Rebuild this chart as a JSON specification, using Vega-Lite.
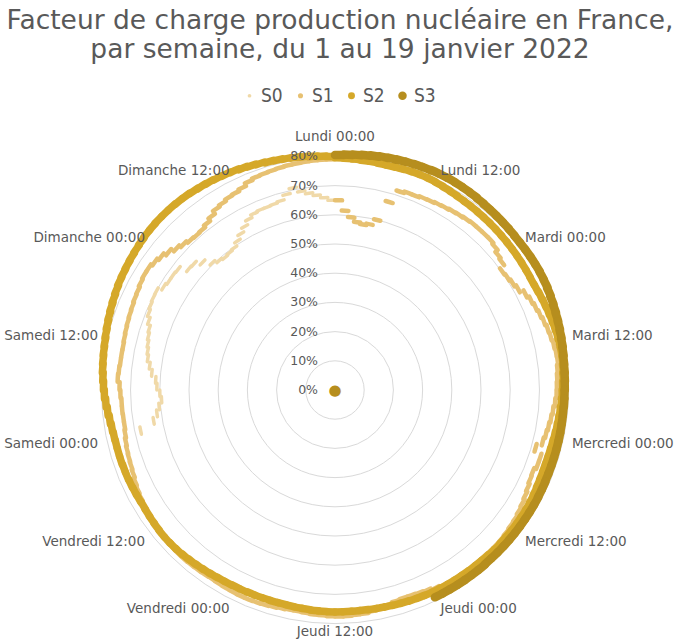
{
  "$schema": "https://vega.github.io/schema/vega-lite/v6.json",
  "width": 480,
  "height": 480,
  "autosize": {"type": "none"},
  "padding": {"left": 95, "top": 150, "right": 105, "bottom": 13},
  "background": "white",
  "config": {"view": {"stroke": null}},
  "title": {
    "text": ["Facteur de charge production nucléaire en France,", "par semaine, du 1 au 19 janvier 2022"],
    "font": "DejaVu Sans",
    "fontSize": 26.5,
    "fontWeight": "normal",
    "color": "#595959",
    "anchor": "middle",
    "frame": "group",
    "baseline": "alphabetic",
    "lineHeight": 29,
    "offset": 2,
    "dx": 5
  },
  "datasets": {
    "rings": [
      {"r": 0, "t": "0%"}, {"r": 10, "t": "10%"}, {"r": 20, "t": "20%"}, {"r": 30, "t": "30%"}, {"r": 40, "t": "40%"},
      {"r": 50, "t": "50%"}, {"r": 60, "t": "60%"}, {"r": 70, "t": "70%"}, {"r": 80, "t": "80%"}
    ],
    "labs": [
      {"h": 0, "t": "Lundi 00:00"}, {"h": 12, "t": "Lundi 12:00"}, {"h": 24, "t": "Mardi 00:00"}, {"h": 36, "t": "Mardi 12:00"},
      {"h": 48, "t": "Mercredi 00:00"}, {"h": 60, "t": "Mercredi 12:00"}, {"h": 72, "t": "Jeudi 00:00"}, {"h": 84, "t": "Jeudi 12:00"},
      {"h": 96, "t": "Vendredi 00:00"}, {"h": 108, "t": "Vendredi 12:00"}, {"h": 120, "t": "Samedi 00:00"}, {"h": 132, "t": "Samedi 12:00"},
      {"h": 144, "t": "Dimanche 00:00"}, {"h": 156, "t": "Dimanche 12:00"}
    ],
    "load": [
{"s":"S0","h":120,"v":68},{"s":"S0","h":121,"v":63},{"s":"S0","h":122,"v":61.5},{"s":"S0","h":123,"v":60.5},{"s":"S0","h":124,"v":59.5},{"s":"S0","h":125,"v":60},{"s":"S0","h":126,"v":61},{"s":"S0","h":127,"v":61.5},{"s":"S0","h":128,"v":63},{"s":"S0","h":129,"v":64},{"s":"S0","h":130,"v":65},{"s":"S0","h":131,"v":65.5},{"s":"S0","h":132,"v":66},{"s":"S0","h":133,"v":66.5},{"s":"S0","h":134,"v":67},{"s":"S0","h":135,"v":68},{"s":"S0","h":136,"v":69},{"s":"S0","h":137,"v":69.5},{"s":"S0","h":138,"v":69.8},{"s":"S0","h":139,"v":69.9},{"s":"S0","h":140,"v":68.5},{"s":"S0","h":141,"v":68},{"s":"S0","h":142,"v":68},{"s":"S0","h":143,"v":67.8},{"s":"S0","h":144,"v":65},{"s":"S0","h":145,"v":64.8},{"s":"S0","h":146,"v":63},{"s":"S0","h":147,"v":60.5},{"s":"S0","h":148,"v":59.5},{"s":"S0","h":149,"v":59},{"s":"S0","h":150,"v":59.3},{"s":"S0","h":151,"v":59.7},{"s":"S0","h":152,"v":61},{"s":"S0","h":153,"v":62.5},{"s":"S0","h":154,"v":64},{"s":"S0","h":155,"v":65.5},{"s":"S0","h":156,"v":66.5},{"s":"S0","h":157,"v":66.8},{"s":"S0","h":158,"v":66.8},{"s":"S0","h":159,"v":67},{"s":"S0","h":160,"v":67.4},{"s":"S0","h":161,"v":69},{"s":"S0","h":162,"v":70.7},{"s":"S0","h":163,"v":69},{"s":"S0","h":164,"v":68},{"s":"S0","h":165,"v":67},{"s":"S0","h":166,"v":66},{"s":"S0","h":167,"v":65},
{"s":"S1","h":0,"v":65},{"s":"S1","h":1,"v":61.5},{"s":"S1","h":2,"v":59.4},{"s":"S1","h":3,"v":58},{"s":"S1","h":4,"v":57.5},{"s":"S1","h":5,"v":58},{"s":"S1","h":6,"v":60},{"s":"S1","h":7,"v":67},{"s":"S1","h":8,"v":71.5},{"s":"S1","h":9,"v":72},{"s":"S1","h":10,"v":72},{"s":"S1","h":11,"v":72.4},{"s":"S1","h":12,"v":72.5},{"s":"S1","h":13,"v":72.8},{"s":"S1","h":14,"v":73},{"s":"S1","h":15,"v":73.3},{"s":"S1","h":16,"v":73.5},{"s":"S1","h":17,"v":73.8},{"s":"S1","h":18,"v":74},{"s":"S1","h":19,"v":74},{"s":"S1","h":20,"v":74},{"s":"S1","h":21,"v":74},{"s":"S1","h":22,"v":73.5},{"s":"S1","h":23,"v":72.5},
{"s":"S1","h":24,"v":72},{"s":"S1","h":25,"v":70.2},{"s":"S1","h":26,"v":70.5},{"s":"S1","h":27,"v":71},{"s":"S1","h":28,"v":71.6},{"s":"S1","h":29,"v":73},{"s":"S1","h":30,"v":73.8},{"s":"S1","h":31,"v":74.3},{"s":"S1","h":32,"v":74.8},{"s":"S1","h":33,"v":75.3},{"s":"S1","h":34,"v":75.8},{"s":"S1","h":35,"v":76.1},{"s":"S1","h":36,"v":76.5},{"s":"S1","h":37,"v":76.8},{"s":"S1","h":38,"v":76.9},{"s":"S1","h":39,"v":76.5},{"s":"S1","h":40,"v":76.2},{"s":"S1","h":41,"v":76},{"s":"S1","h":42,"v":75.9},{"s":"S1","h":43,"v":75.5},{"s":"S1","h":44,"v":75},{"s":"S1","h":45,"v":74.6},{"s":"S1","h":46,"v":74.2},{"s":"S1","h":47,"v":73.8},
{"s":"S1","h":48,"v":73.3},{"s":"S1","h":49,"v":71.5},{"s":"S1","h":50,"v":74},{"s":"S1","h":51,"v":74},{"s":"S1","h":52,"v":73.3},{"s":"S1","h":53,"v":73.5},{"s":"S1","h":54,"v":74},{"s":"S1","h":55,"v":74.5},{"s":"S1","h":56,"v":75},{"s":"S1","h":57,"v":75.4},{"s":"S1","h":58,"v":75.8},{"s":"S1","h":59,"v":76},{"s":"S1","h":60,"v":76.3},{"s":"S1","h":61,"v":76.5},{"s":"S1","h":62,"v":76.6},{"s":"S1","h":63,"v":76.6},{"s":"S1","h":64,"v":76.5},{"s":"S1","h":65,"v":76.6},{"s":"S1","h":66,"v":76.8},{"s":"S1","h":67,"v":76.9},{"s":"S1","h":68,"v":77},{"s":"S1","h":69,"v":76.9},{"s":"S1","h":70,"v":76.5},{"s":"S1","h":71,"v":76},
{"s":"S1","h":72,"v":75.5},{"s":"S1","h":73,"v":75.2},{"s":"S1","h":74,"v":75},{"s":"S1","h":75,"v":75},{"s":"S1","h":76,"v":75.2},{"s":"S1","h":77,"v":75.8},{"s":"S1","h":78,"v":76.3},{"s":"S1","h":79,"v":76.8},{"s":"S1","h":80,"v":77.2},{"s":"S1","h":81,"v":77.3},{"s":"S1","h":82,"v":77.5},{"s":"S1","h":83,"v":77.6},{"s":"S1","h":84,"v":77.5},{"s":"S1","h":85,"v":77.3},{"s":"S1","h":86,"v":77.2},{"s":"S1","h":87,"v":77},{"s":"S1","h":88,"v":76.8},{"s":"S1","h":89,"v":76.8},{"s":"S1","h":90,"v":77},{"s":"S1","h":91,"v":77.2},{"s":"S1","h":92,"v":77.4},{"s":"S1","h":93,"v":77.5},{"s":"S1","h":94,"v":77.6},{"s":"S1","h":95,"v":77.6},
{"s":"S1","h":96,"v":77.5},{"s":"S1","h":97,"v":77.4},{"s":"S1","h":98,"v":77.3},{"s":"S1","h":99,"v":77.2},{"s":"S1","h":100,"v":77.3},{"s":"S1","h":101,"v":77.4},{"s":"S1","h":102,"v":77.5},{"s":"S1","h":103,"v":77.6},{"s":"S1","h":104,"v":77.6},{"s":"S1","h":105,"v":77.5},{"s":"S1","h":106,"v":77.3},{"s":"S1","h":107,"v":77},{"s":"S1","h":108,"v":77},{"s":"S1","h":109,"v":76.8},{"s":"S1","h":110,"v":76.6},{"s":"S1","h":111,"v":76.4},{"s":"S1","h":112,"v":76},{"s":"S1","h":113,"v":75.7},{"s":"S1","h":114,"v":75.3},{"s":"S1","h":115,"v":74.8},{"s":"S1","h":116,"v":74.5},{"s":"S1","h":117,"v":74.3},{"s":"S1","h":118,"v":74.1},{"s":"S1","h":119,"v":73.8},
{"s":"S1","h":120,"v":73.4},{"s":"S1","h":121,"v":73.1},{"s":"S1","h":122,"v":73.1},{"s":"S1","h":123,"v":73.2},{"s":"S1","h":124,"v":73.2},{"s":"S1","h":125,"v":73.5},{"s":"S1","h":126,"v":73.8},{"s":"S1","h":127,"v":74.5},{"s":"S1","h":128,"v":74.3},{"s":"S1","h":129,"v":74.1},{"s":"S1","h":130,"v":74.1},{"s":"S1","h":131,"v":74.1},{"s":"S1","h":132,"v":74.3},{"s":"S1","h":133,"v":74.5},{"s":"S1","h":134,"v":74.7},{"s":"S1","h":135,"v":74.9},{"s":"S1","h":136,"v":75.1},{"s":"S1","h":137,"v":75.4},{"s":"S1","h":138,"v":75.6},{"s":"S1","h":139,"v":76},{"s":"S1","h":140,"v":76.3},{"s":"S1","h":141,"v":76.3},{"s":"S1","h":142,"v":75.7},{"s":"S1","h":143,"v":75},
{"s":"S1","h":144,"v":74},{"s":"S1","h":145,"v":72.8},{"s":"S1","h":146,"v":72},{"s":"S1","h":147,"v":71.3},{"s":"S1","h":148,"v":71.1},{"s":"S1","h":149,"v":71.3},{"s":"S1","h":150,"v":72},{"s":"S1","h":151,"v":73},{"s":"S1","h":152,"v":74.2},{"s":"S1","h":153,"v":74.7},{"s":"S1","h":154,"v":75.3},{"s":"S1","h":155,"v":75.6},{"s":"S1","h":156,"v":76.2},{"s":"S1","h":157,"v":77.2},{"s":"S1","h":158,"v":77.8},{"s":"S1","h":159,"v":78},{"s":"S1","h":160,"v":78.2},{"s":"S1","h":161,"v":78.4},{"s":"S1","h":162,"v":78.6},{"s":"S1","h":163,"v":78.7},{"s":"S1","h":164,"v":78.8},{"s":"S1","h":165,"v":78.9},{"s":"S1","h":166,"v":79},{"s":"S1","h":167,"v":79},
{"s":"S2","h":0,"v":79.5},{"s":"S2","h":1,"v":79.4},{"s":"S2","h":2,"v":79.3},{"s":"S2","h":3,"v":79.2},{"s":"S2","h":4,"v":79.2},{"s":"S2","h":5,"v":79},{"s":"S2","h":6,"v":79},{"s":"S2","h":7,"v":79.1},{"s":"S2","h":8,"v":79.2},{"s":"S2","h":9,"v":79.3},{"s":"S2","h":10,"v":79.3},{"s":"S2","h":11,"v":79.2},{"s":"S2","h":12,"v":79},{"s":"S2","h":13,"v":78.8},{"s":"S2","h":14,"v":78.6},{"s":"S2","h":15,"v":78.4},{"s":"S2","h":16,"v":78.3},{"s":"S2","h":17,"v":78.2},{"s":"S2","h":18,"v":78.1},{"s":"S2","h":19,"v":78},{"s":"S2","h":20,"v":77.9},{"s":"S2","h":21,"v":77.8},{"s":"S2","h":22,"v":77.7},{"s":"S2","h":23,"v":77.6},
{"s":"S2","h":24,"v":77.5},{"s":"S2","h":25,"v":77.4},{"s":"S2","h":26,"v":77.3},{"s":"S2","h":27,"v":77.2},{"s":"S2","h":28,"v":77.1},{"s":"S2","h":29,"v":77.2},{"s":"S2","h":30,"v":77.4},{"s":"S2","h":31,"v":77.6},{"s":"S2","h":32,"v":77.8},{"s":"S2","h":33,"v":78},{"s":"S2","h":34,"v":78.2},{"s":"S2","h":35,"v":78.4},{"s":"S2","h":36,"v":78.5},{"s":"S2","h":37,"v":78.6},{"s":"S2","h":38,"v":78.6},{"s":"S2","h":39,"v":78.4},{"s":"S2","h":40,"v":78.2},{"s":"S2","h":41,"v":78},{"s":"S2","h":42,"v":77.8},{"s":"S2","h":43,"v":77.6},{"s":"S2","h":44,"v":77.4},{"s":"S2","h":45,"v":77.2},{"s":"S2","h":46,"v":77},{"s":"S2","h":47,"v":76.8},
{"s":"S2","h":48,"v":76.6},{"s":"S2","h":49,"v":76.5},{"s":"S2","h":50,"v":76.4},{"s":"S2","h":51,"v":76.4},{"s":"S2","h":52,"v":76.5},{"s":"S2","h":53,"v":76.6},{"s":"S2","h":54,"v":76.8},{"s":"S2","h":55,"v":77},{"s":"S2","h":56,"v":77.1},{"s":"S2","h":57,"v":77.2},{"s":"S2","h":58,"v":77.2},{"s":"S2","h":59,"v":77.2},{"s":"S2","h":60,"v":77.2},{"s":"S2","h":61,"v":77.2},{"s":"S2","h":62,"v":77.3},{"s":"S2","h":63,"v":77.2},{"s":"S2","h":64,"v":77.1},{"s":"S2","h":65,"v":77},{"s":"S2","h":66,"v":77},{"s":"S2","h":67,"v":76.9},{"s":"S2","h":68,"v":76.9},{"s":"S2","h":69,"v":76.9},{"s":"S2","h":70,"v":76.9},{"s":"S2","h":71,"v":76.8},
{"s":"S2","h":72,"v":76.8},{"s":"S2","h":73,"v":76.7},{"s":"S2","h":74,"v":76.6},{"s":"S2","h":75,"v":76.5},{"s":"S2","h":76,"v":76.4},{"s":"S2","h":77,"v":76.3},{"s":"S2","h":78,"v":76.2},{"s":"S2","h":79,"v":76.1},{"s":"S2","h":80,"v":76},{"s":"S2","h":81,"v":76},{"s":"S2","h":82,"v":76},{"s":"S2","h":83,"v":76},{"s":"S2","h":84,"v":76},{"s":"S2","h":85,"v":75.9},{"s":"S2","h":86,"v":75.8},{"s":"S2","h":87,"v":75.7},{"s":"S2","h":88,"v":75.6},{"s":"S2","h":89,"v":75.5},{"s":"S2","h":90,"v":75.4},{"s":"S2","h":91,"v":75.4},{"s":"S2","h":92,"v":75.4},{"s":"S2","h":93,"v":75.4},{"s":"S2","h":94,"v":75.4},{"s":"S2","h":95,"v":75.5},
{"s":"S2","h":96,"v":75.5},{"s":"S2","h":97,"v":75.6},{"s":"S2","h":98,"v":75.7},{"s":"S2","h":99,"v":75.9},{"s":"S2","h":100,"v":76.1},{"s":"S2","h":101,"v":76.3},{"s":"S2","h":102,"v":76.5},{"s":"S2","h":103,"v":76.7},{"s":"S2","h":104,"v":76.9},{"s":"S2","h":105,"v":77},{"s":"S2","h":106,"v":77.1},{"s":"S2","h":107,"v":77.1},{"s":"S2","h":108,"v":77},{"s":"S2","h":109,"v":76.9},{"s":"S2","h":110,"v":76.8},{"s":"S2","h":111,"v":76.7},{"s":"S2","h":112,"v":76.8},{"s":"S2","h":113,"v":76.9},{"s":"S2","h":114,"v":77},{"s":"S2","h":115,"v":77.1},{"s":"S2","h":116,"v":77.1},{"s":"S2","h":117,"v":77.2},{"s":"S2","h":118,"v":77.2},{"s":"S2","h":119,"v":77.2},
{"s":"S2","h":120,"v":77.3},{"s":"S2","h":121,"v":77.5},{"s":"S2","h":122,"v":77.8},{"s":"S2","h":123,"v":78.2},{"s":"S2","h":124,"v":78.6},{"s":"S2","h":125,"v":79},{"s":"S2","h":126,"v":79.3},{"s":"S2","h":127,"v":79.6},{"s":"S2","h":128,"v":79.9},{"s":"S2","h":129,"v":80.1},{"s":"S2","h":130,"v":80.3},{"s":"S2","h":131,"v":80.5},{"s":"S2","h":132,"v":80.8},{"s":"S2","h":133,"v":81.1},{"s":"S2","h":134,"v":81.4},{"s":"S2","h":135,"v":81.7},{"s":"S2","h":136,"v":82},{"s":"S2","h":137,"v":82.3},{"s":"S2","h":138,"v":82.6},{"s":"S2","h":139,"v":82.8},{"s":"S2","h":140,"v":83},{"s":"S2","h":141,"v":83.2},{"s":"S2","h":142,"v":83.4},{"s":"S2","h":143,"v":83.6},
{"s":"S2","h":144,"v":83.8},{"s":"S2","h":145,"v":83.9},{"s":"S2","h":146,"v":84},{"s":"S2","h":147,"v":84},{"s":"S2","h":148,"v":84},{"s":"S2","h":149,"v":83.9},{"s":"S2","h":150,"v":83.8},{"s":"S2","h":151,"v":83.6},{"s":"S2","h":152,"v":83.4},{"s":"S2","h":153,"v":83.2},{"s":"S2","h":154,"v":83},{"s":"S2","h":155,"v":82.8},{"s":"S2","h":156,"v":82.6},{"s":"S2","h":157,"v":82.3},{"s":"S2","h":158,"v":82},{"s":"S2","h":159,"v":81.7},{"s":"S2","h":160,"v":81.4},{"s":"S2","h":161,"v":81.2},{"s":"S2","h":162,"v":81},{"s":"S2","h":163,"v":80.8},{"s":"S2","h":164,"v":80.6},{"s":"S2","h":165,"v":80.4},{"s":"S2","h":166,"v":80.2},{"s":"S2","h":167,"v":80},
{"s":"S3","h":0,"v":80.5},{"s":"S3","h":1,"v":80.7},{"s":"S3","h":2,"v":80.9},{"s":"S3","h":3,"v":81.1},{"s":"S3","h":4,"v":81.3},{"s":"S3","h":5,"v":81.5},{"s":"S3","h":6,"v":81.6},{"s":"S3","h":7,"v":81.8},{"s":"S3","h":8,"v":81.9},{"s":"S3","h":9,"v":82},{"s":"S3","h":10,"v":82.1},{"s":"S3","h":11,"v":82.2},{"s":"S3","h":12,"v":82.2},{"s":"S3","h":13,"v":82.2},{"s":"S3","h":14,"v":82.1},{"s":"S3","h":15,"v":82},{"s":"S3","h":16,"v":81.9},{"s":"S3","h":17,"v":81.7},{"s":"S3","h":18,"v":81.5},{"s":"S3","h":19,"v":81.4},{"s":"S3","h":20,"v":81.3},{"s":"S3","h":21,"v":81.2},{"s":"S3","h":22,"v":81.1},{"s":"S3","h":23,"v":81},
{"s":"S3","h":24,"v":81},{"s":"S3","h":25,"v":81},{"s":"S3","h":26,"v":81},{"s":"S3","h":27,"v":81},{"s":"S3","h":28,"v":80.9},{"s":"S3","h":29,"v":80.8},{"s":"S3","h":30,"v":80.6},{"s":"S3","h":31,"v":80.4},{"s":"S3","h":32,"v":80.2},{"s":"S3","h":33,"v":80},{"s":"S3","h":34,"v":79.8},{"s":"S3","h":35,"v":79.6},{"s":"S3","h":36,"v":79.4},{"s":"S3","h":37,"v":79.2},{"s":"S3","h":38,"v":79},{"s":"S3","h":39,"v":78.9},{"s":"S3","h":40,"v":78.8},{"s":"S3","h":41,"v":78.7},{"s":"S3","h":42,"v":78.6},{"s":"S3","h":43,"v":78.6},{"s":"S3","h":44,"v":78.5},{"s":"S3","h":45,"v":78.5},{"s":"S3","h":46,"v":78.5},{"s":"S3","h":47,"v":78.5},
{"s":"S3","h":48,"v":78.5},{"s":"S3","h":49,"v":78.5},{"s":"S3","h":50,"v":78.5},{"s":"S3","h":51,"v":78.5},{"s":"S3","h":52,"v":78.5},{"s":"S3","h":53,"v":78.6},{"s":"S3","h":54,"v":78.6},{"s":"S3","h":55,"v":78.7},{"s":"S3","h":56,"v":78.7},{"s":"S3","h":57,"v":78.7},{"s":"S3","h":58,"v":78.7},{"s":"S3","h":59,"v":78.7},{"s":"S3","h":60,"v":78.7},{"s":"S3","h":61,"v":78.7},{"s":"S3","h":62,"v":78.7},{"s":"S3","h":63,"v":78.7},{"s":"S3","h":64,"v":78.7},{"s":"S3","h":65,"v":78.8},{"s":"S3","h":66,"v":78.8},{"s":"S3","h":67,"v":78.8},{"s":"S3","h":68,"v":78.8},{"s":"S3","h":69,"v":78.8},{"s":"S3","h":70,"v":78.8},{"s":"S3","h":71,"v":78.8},
{"s":"S3","h":72,"v":0}
    ]
  },
  "layer": [
    {
      "data": {"name": "rings"},
      "transform": [{"filter": "datum.r > 0"}],
      "mark": {"type": "arc", "filled": false, "stroke": "#d9d9d9", "strokeWidth": 1},
      "encoding": {
        "theta": {"datum": 0, "type": "quantitative", "stack": null, "scale": {"type": "linear", "domain": [0, 168], "range": [0, 6.2831853072]}},
        "theta2": {"datum": 168},
        "radius": {"field": "r", "type": "quantitative", "stack": null, "scale": {"type": "linear", "domain": [0, 80], "range": [0, 233.6], "zero": true}}
      }
    },
    {
      "data": {"name": "load"},
      "transform": [{"filter": "datum.s == 'S0'"}],
      "mark": {"type": "arc", "filled": false, "strokeCap": "round", "strokeJoin": "round", "strokeWidth": 3.5, "theta2Offset": 0.0374},
      "encoding": {
        "theta": {"field": "h", "type": "quantitative", "stack": null},
        "theta2": {"field": "h"},
        "radius": {"field": "v", "type": "quantitative", "stack": null},
        "radius2": {"field": "v"},
        "color": {
          "field": "s", "type": "nominal",
          "scale": {"domain": ["S0", "S1", "S2", "S3"], "range": ["#f0d9a8", "#e7c172", "#d5a829", "#b68e1e"]},
          "legend": {
            "orient": "none", "legendX": 145, "legendY": -64, "direction": "horizontal", "title": null,
            "labelFont": "DejaVu Sans Condensed, sans-serif", "labelFontSize": 19, "labelColor": "#595959",
            "labelOffset": 2, "columnPadding": 8, "symbolType": "circle", "symbolSize": 80,
            "encode": {"symbols": {"update": {
              "size": {"signal": "datum.value === 'S0' ? 14 : datum.value === 'S1' ? 26 : datum.value === 'S2' ? 48 : 72"},
              "fill": {"scale": "color", "field": "value"},
              "strokeWidth": {"value": 0},
              "opacity": {"value": 1}
            }}}
          }
        }
      }
    },
    {
      "data": {"name": "load"},
      "transform": [{"filter": "datum.s == 'S1'"}],
      "mark": {"type": "arc", "filled": false, "strokeCap": "round", "strokeJoin": "round", "strokeWidth": 4.5, "theta2Offset": 0.0374},
      "encoding": {
        "theta": {"field": "h", "type": "quantitative", "stack": null},
        "theta2": {"field": "h"},
        "radius": {"field": "v", "type": "quantitative", "stack": null},
        "radius2": {"field": "v"},
        "color": {"field": "s", "type": "nominal"}
      }
    },
    {
      "data": {"name": "load"},
      "transform": [{"filter": "datum.s == 'S2'"}],
      "mark": {"type": "arc", "filled": false, "strokeCap": "round", "strokeJoin": "round", "strokeWidth": 7.5, "theta2Offset": 0.0374},
      "encoding": {
        "theta": {"field": "h", "type": "quantitative", "stack": null},
        "theta2": {"field": "h"},
        "radius": {"field": "v", "type": "quantitative", "stack": null},
        "radius2": {"field": "v"},
        "color": {"field": "s", "type": "nominal"}
      }
    },
    {
      "data": {"name": "load"},
      "transform": [{"filter": "datum.s == 'S3' && datum.v > 0"}],
      "mark": {"type": "arc", "filled": false, "strokeCap": "round", "strokeJoin": "round", "strokeWidth": 8.5, "theta2Offset": 0.0374},
      "encoding": {
        "theta": {"field": "h", "type": "quantitative", "stack": null},
        "theta2": {"field": "h"},
        "radius": {"field": "v", "type": "quantitative", "stack": null},
        "radius2": {"field": "v"},
        "color": {"field": "s", "type": "nominal"}
      }
    },
    {
      "data": {"name": "load"},
      "transform": [{"filter": "datum.v == 0"}],
      "mark": {"type": "text", "text": "●", "fontSize": 15, "baseline": "middle", "align": "center", "color": "#b68e1e", "font": "DejaVu Sans"},
      "encoding": {
        "theta": {"field": "h", "type": "quantitative"},
        "radius": {"field": "v", "type": "quantitative"}
      }
    },
    {
      "data": {"name": "rings"},
      "mark": {"type": "text", "align": "right", "baseline": "middle", "dx": -17, "font": "DejaVu Sans", "fontSize": 12.5, "color": "#595959"},
      "encoding": {
        "theta": {"datum": 0, "type": "quantitative"},
        "radius": {"field": "r", "type": "quantitative"},
        "text": {"field": "t"}
      }
    },
    {
      "data": {"name": "labs"},
      "transform": [{"filter": "datum.h > 0 && datum.h < 84"}],
      "mark": {"type": "text", "align": "left", "baseline": "middle", "radius": 243, "font": "DejaVu Sans", "fontSize": 13.5, "color": "#595959"},
      "encoding": {
        "theta": {"field": "h", "type": "quantitative"},
        "text": {"field": "t"}
      }
    },
    {
      "data": {"name": "labs"},
      "transform": [{"filter": "datum.h > 84"}],
      "mark": {"type": "text", "align": "right", "baseline": "middle", "radius": 243, "font": "DejaVu Sans", "fontSize": 13.5, "color": "#595959"},
      "encoding": {
        "theta": {"field": "h", "type": "quantitative"},
        "text": {"field": "t"}
      }
    },
    {
      "data": {"name": "labs"},
      "transform": [{"filter": "datum.h == 0"}],
      "mark": {"type": "text", "align": "center", "baseline": "middle", "radius": 253, "font": "DejaVu Sans", "fontSize": 13.5, "color": "#595959"},
      "encoding": {
        "theta": {"field": "h", "type": "quantitative"},
        "text": {"field": "t"}
      }
    },
    {
      "data": {"name": "labs"},
      "transform": [{"filter": "datum.h == 84"}],
      "mark": {"type": "text", "align": "center", "baseline": "middle", "radius": 242, "font": "DejaVu Sans", "fontSize": 13.5, "color": "#595959"},
      "encoding": {
        "theta": {"field": "h", "type": "quantitative"},
        "text": {"field": "t"}
      }
    }
  ]
}
